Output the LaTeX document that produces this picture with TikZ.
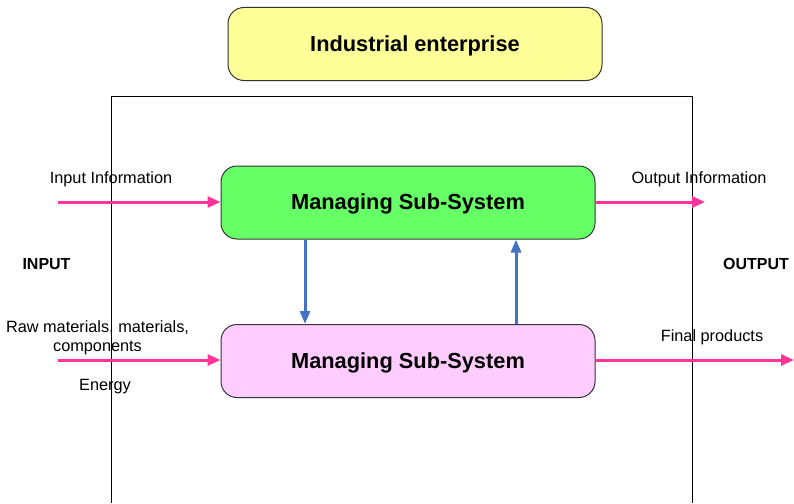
\documentclass[tikz,border=0pt]{standalone}
\usepackage{fontspec}
\setmainfont{Liberation Sans}
\usetikzlibrary{arrows.meta}
\definecolor{pinkarrow}{HTML}{FF3399}
\definecolor{bluearrow}{HTML}{4472C4}
\definecolor{greenfill}{HTML}{66FF66}
\definecolor{pinkfill}{HTML}{FFCCFF}
\definecolor{yellowfill}{HTML}{FFFF99}
\tikzset{
  box/.style={draw=black!80, line width=1pt, rounded corners=16pt, minimum width=374pt, minimum height=73pt, font=\fontsize{21.8}{24}\selectfont\bfseries, inner sep=0pt, text depth=1pt},
  lbl/.style={font=\fontsize{16.3}{18}\selectfont, inner sep=0pt},
  blbl/.style={font=\fontsize{16}{18}\selectfont\bfseries, inner sep=0pt},
  parrow/.style={draw=pinkarrow, line width=3pt, -{Triangle[length=13pt,width=11pt]}},
  barrow/.style={draw=bluearrow, line width=3pt, -{Triangle[length=13pt,width=10pt]}}
}
\begin{document}
\begin{tikzpicture}[x=1pt,y=-1pt]
\useasboundingbox (0,0) rectangle (794,503);
\fill[white] (0,0) rectangle (794,503);
% enterprise boundary
\draw[line width=1pt] (111,503) -- (111,96) -- (692,96) -- (692,503);
\node[box, fill=yellowfill] (ent) at (415,44) {Industrial enterprise};
\node[box, fill=greenfill] (mgr) at (408,202.5) {Managing Sub-System};
\node[box, fill=pinkfill] (prod) at (408,361) {Managing Sub-System};
% pink arrows
\coordinate (ii) at (58,202);
\coordinate (oi) at (705,202);
\coordinate (rm) at (58,360);
\coordinate (fp) at (794,360);
\draw[parrow] (ii) -- (ii -| mgr.west);
\draw[parrow] (oi -| mgr.east) -- (oi);
\draw[parrow] (rm) -- (rm -| prod.west);
\draw[parrow] (fp -| prod.east) -- (fp);
% blue arrows
\draw[barrow] (305,0 |- mgr.south) -- (305,0 |- prod.north);
\draw[barrow] (516,0 |- prod.north) -- (516,0 |- mgr.south);
% labels
\node[lbl] (tii) at (111,179) {Input Information};
\node[lbl] (toi) at (699,179) {Output Information};
\node[blbl] (tin) at (46.5,264) {INPUT};
\node[blbl] (tout) at (756,264) {OUTPUT};
\node[lbl, align=center] (trm) at (97.5,338) {Raw materials, materials,\\[1pt]components};
\node[lbl] (ten) at (105,387) {Energy};
\node[lbl] (tfp) at (712,337) {Final products};
\end{tikzpicture}
\end{document}
